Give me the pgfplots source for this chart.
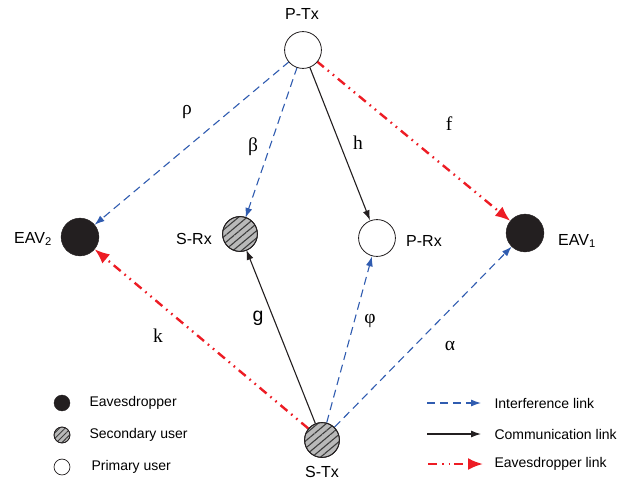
\documentclass[border=0pt]{standalone}
\usepackage{fontspec}
\setmainfont{Liberation Sans}
\newfontfamily\tnr{Liberation Serif}
\usepackage{pgfplots}
\pgfplotsset{compat=1.18}
\usetikzlibrary{arrows.meta,patterns.meta}
\definecolor{lblue}{RGB}{48,92,176}
\definecolor{lred}{RGB}{237,28,36}
\definecolor{nblack}{RGB}{35,31,32}
\definecolor{hgray}{RGB}{185,185,185}
\definecolor{hline}{RGB}{60,60,60}
\tikzset{
  nlab/.style={font={\fontsize{16bp}{18bp}\selectfont}},
  glab/.style={font={\tnr\fontsize{19.5bp}{21bp}\selectfont}},
  llab/.style={anchor=west, font={\fontsize{14bp}{16bp}\selectfont}},
}
\begin{document}
\begin{tikzpicture}
\begin{axis}[
  scale only axis, width=640bp, height=482bp,
  xmin=0, xmax=640, ymin=0, ymax=482, y dir=reverse,
  hide axis, clip=false,
]
\path (axis cs:0,0) rectangle (axis cs:640,482);
\pgfplotsset{
  intf/.style={color=lblue, line width=1.1bp, dash pattern=on 8bp off 5bp, -{Latex[length=10bp,width=7bp]}},
  comm/.style={color=nblack, line width=1.1bp, -{Latex[length=10bp,width=7bp]}},
  eav/.style={color=lred, line width=2.4bp, dash pattern=on 9bp off 5bp on 1.6bp off 5bp on 1.6bp off 5bp, -{Latex[length=15bp,width=12bp]}},
}
\addplot[intf] coordinates {(289.2,61.6) (94.6,224.8)};
\addplot[intf] coordinates {(297.2,67.0) (245.5,217.9)};
\addplot[comm] coordinates {(309.6,66.8) (370.0,220.3)};
\addplot[eav] coordinates {(316.9,61.4) (510.3,220.9)};
\addplot[eav] coordinates {(308.2,428.4) (94.6,249.2)};
\addplot[comm] coordinates {(315.3,423.3) (246.3,249.8)};
\addplot[intf] coordinates {(326.7,422.6) (372.0,256.3)};
\addplot[intf] coordinates {(334.6,427.1) (511.7,246.6)};
% legend lines
\addplot[intf] coordinates {(427,403) (481,403)};
\addplot[comm] coordinates {(427,434) (481,434)};
\addplot[eav, dash pattern=on 9bp off 5bp on 1.6bp off 5bp on 1.6bp off 4bp] coordinates {(428,464) (483,464)};
% nodes
\addplot[only marks, mark=*, mark size=18.5pt, mark options={draw=nblack, fill=white, line width=0.8bp}] coordinates {(303,50) (377,238)};
\addplot[only marks, mark=*, mark size=19pt, mark options={draw=nblack, fill=nblack}] coordinates {(80,237) (525,233)};
\addplot[only marks, mark=*, mark size=17.5pt, mark options={draw=nblack, fill=hgray, line width=0.8bp}] coordinates {(240,234) (322,440)};
\addplot[only marks, mark=*, mark size=17.5pt, mark options={draw=nblack, line width=0.9bp, pattern={Lines[angle=40,distance=5.5bp,line width=1.1bp]}, pattern color=hline}] coordinates {(240,234) (322,440)};
% legend marks
\addplot[only marks, mark=*, mark size=8pt, mark options={draw=nblack, fill=nblack}] coordinates {(62,403)};
\addplot[only marks, mark=*, mark size=8pt, mark options={draw=nblack, fill=hgray, line width=0.7bp}] coordinates {(62,435)};
\addplot[only marks, mark=*, mark size=8pt, mark options={draw=nblack, line width=0.7bp, pattern={Lines[angle=45,distance=4bp,line width=0.9bp]}, pattern color=hline}] coordinates {(62,435)};
\addplot[only marks, mark=*, mark size=8pt, mark options={draw=nblack, fill=white, line width=0.7bp}] coordinates {(62,467)};
% node labels
\node[nlab] at (axis cs:302,14) {P-Tx};
\node[nlab] at (axis cs:33,239) {EAV\textsubscript{2}};
\node[nlab] at (axis cs:194,239) {S-Rx};
\node[nlab] at (axis cs:424,241) {P-Rx};
\node[nlab] at (axis cs:577,241) {EAV\textsubscript{1}};
\node[nlab] at (axis cs:322,472) {S-Tx};
% link labels
\node[glab] at (axis cs:187,112) {ρ};
\node[glab] at (axis cs:253,147) {β};
\node[glab] at (axis cs:358,143) {h};
\node[glab] at (axis cs:449,124) {f};
\node[glab] at (axis cs:158,336) {k};
\node[font={\fontsize{19.5bp}{21bp}\selectfont}] at (axis cs:258,318) {g};
\node[glab] at (axis cs:370,321) {φ};
\node[glab] at (axis cs:450,346) {α};
% legend text
\node[llab] at (axis cs:86,403) {Eavesdropper};
\node[llab] at (axis cs:86,435) {Secondary user};
\node[llab] at (axis cs:88,467) {Primary user};
\node[llab] at (axis cs:491,403) {Interference link};
\node[llab] at (axis cs:491,434) {Communication link};
\node[llab] at (axis cs:491,464) {Eavesdropper link};
\end{axis}
\end{tikzpicture}
\end{document}
